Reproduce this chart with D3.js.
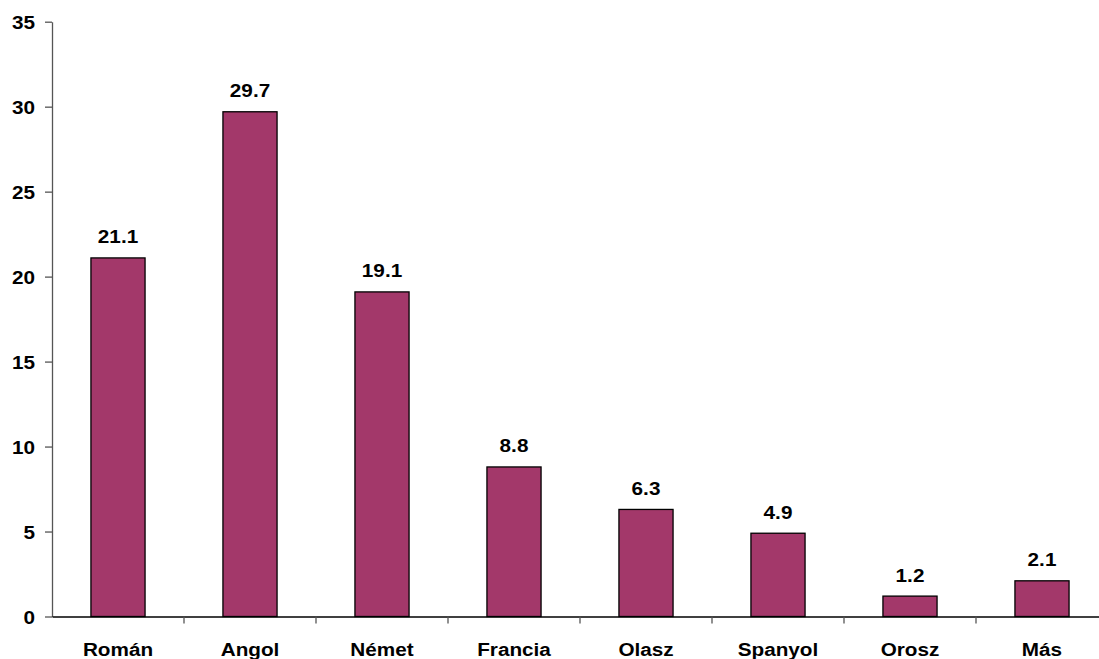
<!DOCTYPE html>
<html><head><meta charset="utf-8">
<script src="https://cdn.jsdelivr.net/npm/d3@7"></script>
<style>body{margin:0;background:#fff;}svg{display:block;font-family:"Liberation Sans",Arial,sans-serif;}</style>
</head><body>
<svg id="c" width="1099" height="659"></svg>
<script>
const categories = ["Román","Angol","Német","Francia","Olasz","Spanyol","Orosz","Más"];
const values = [21.1,29.7,19.1,8.8,6.3,4.9,1.2,2.1];
const yTicks = [0,5,10,15,20,25,30,35];

const FS = 18.5, SX = 1.12;
const svg = d3.select("#c");
const x = d3.scaleBand().domain(categories).range([52,1108]).padding(0);
const y = d3.scaleLinear().domain([0,35]).range([616.5,21.7]);
const barW = x.bandwidth()*0.41;

// bars
svg.append("g").selectAll("rect").data(values).join("rect")
  .attr("x",(d,i)=>x(categories[i])+x.bandwidth()/2-barW/2)
  .attr("y",d=>y(d))
  .attr("width",barW)
  .attr("height",d=>y(0)-y(d))
  .attr("fill","#A3386A")
  .attr("stroke","#000")
  .attr("stroke-width",1.3);

// value labels
svg.append("g").selectAll("text").data(values).join("text")
  .attr("transform",(d,i)=>`translate(${x(categories[i])+x.bandwidth()/2},${y(d)-14.5}) scale(${SX},1)`)
  .attr("text-anchor","middle")
  .attr("font-size",FS).attr("font-weight","bold").attr("fill","#000")
  .text(d=>d.toFixed(1));

// y axis
const yAxis = svg.append("g").attr("transform","translate(52,0)")
  .call(d3.axisLeft(y).tickValues(yTicks).tickSize(7).tickPadding(10).tickSizeOuter(0));
yAxis.select(".domain").attr("stroke","#555").attr("stroke-width",1.3);
yAxis.selectAll(".tick line").attr("stroke","#555").attr("stroke-width",1.3);
yAxis.selectAll(".tick text")
  .attr("x",0).attr("dy",null).attr("y",null)
  .attr("transform",`translate(-17,6.6) scale(${SX},1)`)
  .attr("font-size",FS).attr("font-weight","bold")
  .attr("font-family","'Liberation Sans',Arial,sans-serif").attr("fill","#000");

// x axis
const xAxis = svg.append("g").attr("transform","translate(0,616.5)")
  .call(d3.axisBottom(x).tickSize(0).tickSizeOuter(0));
xAxis.select(".domain").attr("stroke","#000").attr("stroke-width",1.3);
xAxis.selectAll(".tick text")
  .attr("y",null).attr("dy",null)
  .attr("transform",`translate(0,39) scale(${SX},1)`)
  .attr("font-size",FS).attr("font-weight","bold")
  .attr("font-family","'Liberation Sans',Arial,sans-serif").attr("fill","#000");
// category separator ticks
svg.append("g").selectAll("line").data(categories.slice(1)).join("line")
  .attr("x1",d=>x(d)).attr("x2",d=>x(d))
  .attr("y1",616.5).attr("y2",623.5)
  .attr("stroke","#555").attr("stroke-width",1.3);
</script>
</body></html>
